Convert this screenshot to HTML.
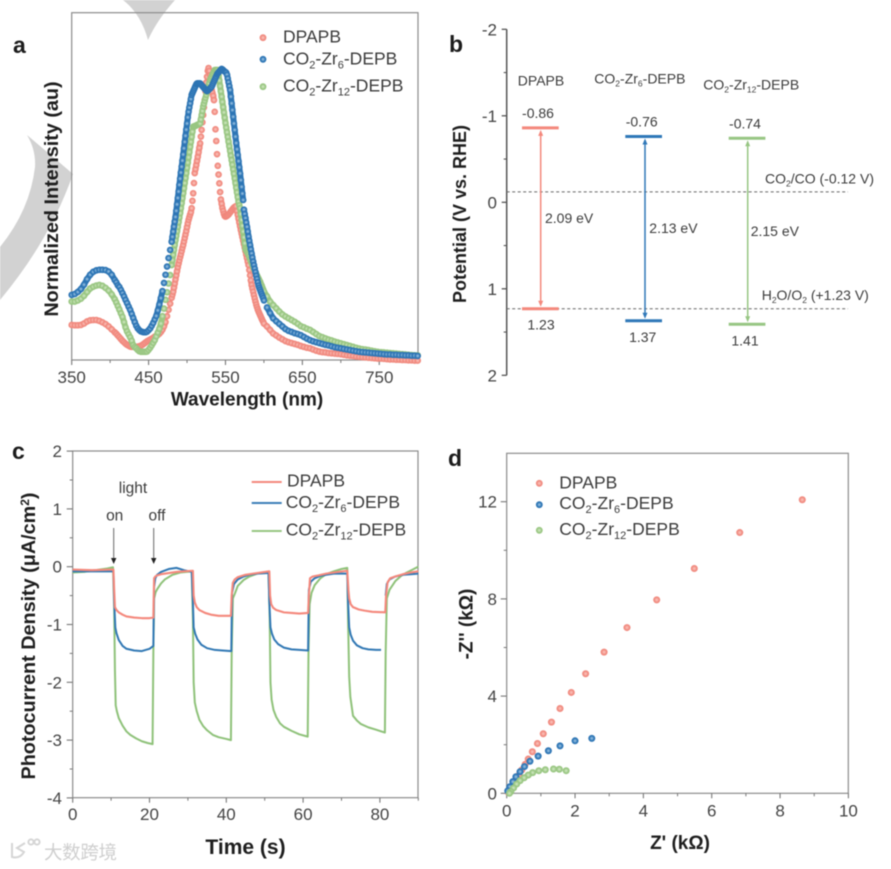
<!DOCTYPE html>
<html lang="en">
<head>
<meta charset="utf-8">
<title>Four-panel photocatalyst chart figure</title>
<style>
html,body{margin:0;padding:0;background:#fff;}
#figure{display:block;width:891px;height:869px;filter:blur(0.65px);font-family:"Liberation Sans","Noto Sans CJK SC",sans-serif;}
.tk{font-size:17px;fill:#444;}
.lg{font-size:17.5px;fill:#3c3c3c;}
.bl{font-size:14px;fill:#3c3c3c;}
.ttl{font-weight:bold;fill:#1e1e1e;}
.pl{font-size:23px;font-weight:bold;fill:#1c1c1c;}
</style>
</head>
<body>
<svg id="figure" xmlns="http://www.w3.org/2000/svg" width="891" height="869" viewBox="0 0 891 869">
<defs>
<radialGradient id="dot-red" cx="50%" cy="50%" r="55%"><stop offset="0" stop-color="#fbc9c2"/><stop offset="0.6" stop-color="#f28f84"/><stop offset="1" stop-color="#ee8075"/></radialGradient>
<radialGradient id="dot-blue" cx="50%" cy="50%" r="55%"><stop offset="0" stop-color="#a9cbe6"/><stop offset="0.6" stop-color="#2f78b8"/><stop offset="1" stop-color="#2a6fad"/></radialGradient>
<radialGradient id="dot-green" cx="50%" cy="50%" r="55%"><stop offset="0" stop-color="#d6ebc9"/><stop offset="0.6" stop-color="#9dc986"/><stop offset="1" stop-color="#93c27c"/></radialGradient>
</defs>
<rect width="891" height="869" fill="#fff"/>
<path d="M123,0 Q141,14 148,40 Q157,20 175,0 Z" fill="#d2d2d2"/>
<path d="M27,135 L73,174 Q50,240 0,300 L0,247 Q30,210 35,167 Q36,150 27,135 Z" fill="#d2d2d2"/>
<g fill="none" stroke="#d6d6d6" stroke-width="2">
<path d="M12,843 V857 Q20,859 24,852 L17,848 L25,843"/>
<circle cx="31" cy="842" r="2.6"/><circle cx="37" cy="842" r="2.6"/>
</g>
<text x="44" y="859" font-size="18.5" textLength="73" fill="#cfcfcf">大数跨境</text>

<g id="panel-a"></g>
<g id="panel-b"></g>
<g id="panel-c"></g>
<g id="panel-d"></g>

<text class="pl" x="13" y="53">a</text>
<text class="pl" x="449" y="52">b</text>
<text class="pl" x="12" y="459">c</text>
<text class="pl" x="448" y="466">d</text>

<text class="ttl" x="247" y="405.5" font-size="19" text-anchor="middle">Wavelength (nm)</text>
<text class="ttl" transform="translate(58,199) rotate(-90)" font-size="19.8" text-anchor="middle">Normalized Intensity (au)</text>
<text class="ttl" transform="translate(466,214) rotate(-90)" font-size="18" text-anchor="middle">Potential (V vs. RHE)</text>
<text class="ttl" x="245.5" y="854" font-size="21" text-anchor="middle">Time (s)</text>
<text class="ttl" transform="translate(35,636) rotate(-90)" font-size="19.8" text-anchor="middle">Photocurrent Density (μA/cm<tspan dy="-6" font-size="12">2</tspan><tspan dy="6">)</tspan></text>
<text class="ttl" x="680" y="849" font-size="19" text-anchor="middle">Z' (kΩ)</text>
<text class="ttl" transform="translate(472.5,624) rotate(-90)" font-size="19" text-anchor="middle">-Z'' (kΩ)</text>

<g>
<circle cx="263" cy="37.7" r="3.4" fill="url(#dot-red)"/>
<text class="lg" x="283" y="42.5">DPAPB</text>
<circle cx="263" cy="59.3" r="3.4" fill="url(#dot-blue)"/>
<text class="lg" x="283" y="64.3">CO<tspan dy="4" font-size="11">2</tspan><tspan dy="-4">-Zr</tspan><tspan dy="4" font-size="11">6</tspan><tspan dy="-4">-DEPB</tspan></text>
<circle cx="263" cy="86.7" r="3.4" fill="url(#dot-green)"/>
<text class="lg" x="283" y="91.7">CO<tspan dy="4" font-size="11">2</tspan><tspan dy="-4">-Zr</tspan><tspan dy="4" font-size="11">12</tspan><tspan dy="-4">-DEPB</tspan></text>
</g>

<g>
<text class="bl" x="541" y="85.7" text-anchor="middle">DPAPB</text>
<text class="bl" x="594.3" y="83.3">CO<tspan dy="3" font-size="8.5">2</tspan><tspan dy="-3">-Zr</tspan><tspan dy="3" font-size="8.5">6</tspan><tspan dy="-3">-DEPB</tspan></text>
<text class="bl" x="703.3" y="89.3">CO<tspan dy="3" font-size="8.5">2</tspan><tspan dy="-3">-Zr</tspan><tspan dy="3" font-size="8.5">12</tspan><tspan dy="-3">-DEPB</tspan></text>
<text class="bl" x="765" y="183.3">CO<tspan dy="3" font-size="8.5">2</tspan><tspan dy="-3">/CO (-0.12 V)</tspan></text>
<text class="bl" x="761.7" y="300">H<tspan dy="3" font-size="8.5">2</tspan><tspan dy="-3">O/O</tspan><tspan dy="3" font-size="8.5">2</tspan><tspan dy="-3"> (+1.23 V)</tspan></text>
</g>

<g>
<line x1="251.7" x2="281.7" y1="482" y2="482" stroke="#f4887c" stroke-width="2"/>
<text class="lg" x="287" y="486.7">DPAPB</text>
<line x1="251.7" x2="281.7" y1="503" y2="503" stroke="#3d80b8" stroke-width="2"/>
<text class="lg" x="285.7" y="508">CO<tspan dy="4" font-size="11">2</tspan><tspan dy="-4">-Zr</tspan><tspan dy="4" font-size="11">6</tspan><tspan dy="-4">-DEPB</tspan></text>
<line x1="251.7" x2="281.7" y1="531" y2="531" stroke="#97c683" stroke-width="2"/>
<text class="lg" x="285.7" y="535.7">CO<tspan dy="4" font-size="11">2</tspan><tspan dy="-4">-Zr</tspan><tspan dy="4" font-size="11">12</tspan><tspan dy="-4">-DEPB</tspan></text>
</g>

<g>
<text x="133" y="493" font-size="15.5" fill="#3c3c3c" text-anchor="middle">light</text>
<text x="114.7" y="520.7" font-size="15.5" fill="#3c3c3c" text-anchor="middle">on</text>
<text x="157" y="520.7" font-size="15.5" fill="#3c3c3c" text-anchor="middle">off</text>
<line x1="113.7" x2="113.7" y1="528" y2="559" stroke="#666" stroke-width="1"/>
<path d="M111,558 H116.4 L113.7,564 Z" fill="#222"/>
<line x1="153.7" x2="153.7" y1="528" y2="559" stroke="#666" stroke-width="1"/>
<path d="M151,558 H156.4 L153.7,564 Z" fill="#222"/>
</g>

<g>
<circle cx="539.3" cy="483.3" r="3.4" fill="url(#dot-red)"/>
<text class="lg" x="559.3" y="488.3">DPAPB</text>
<circle cx="539.3" cy="504.7" r="3.4" fill="url(#dot-blue)"/>
<text class="lg" x="559.3" y="509">CO<tspan dy="4" font-size="11">2</tspan><tspan dy="-4">-Zr</tspan><tspan dy="4" font-size="11">6</tspan><tspan dy="-4">-DEPB</tspan></text>
<circle cx="539.3" cy="530.3" r="3.4" fill="url(#dot-green)"/>
<text class="lg" x="559.3" y="535">CO<tspan dy="4" font-size="11">2</tspan><tspan dy="-4">-Zr</tspan><tspan dy="4" font-size="11">12</tspan><tspan dy="-4">-DEPB</tspan></text>
</g>
</svg>

<script>
/* ---------- Panel a data ---------- */
const wavelengths = [350,354,358,362,366,370,374,378,382,386,390,394,398,402,406,
408,410,412,414,416,418,420,422,424,426,428,430,432,434,436,438,440,442,444,446,448,450,452,454,456,458,460,462,464,466,468,470,472,474,476,478,
480,481,482,483,484,485,486,487,488,489,490,491,492,493,494,495,496,497,498,499,500,501,502,503,504,505,506,507,508,509,510,511,512,513,514,515,516,517,518,519,520,521,522,523,524,525,526,527,528,529,530,531,532,533,534,535,536,537,538,539,540,541,542,543,544,545,546,547,548,549,550,551,552,553,554,555,556,557,558,559,560,561,562,563,564,565,566,567,568,569,570,571,572,573,574,575,576,577,578,579,580,581,582,583,584,585,586,587,588,589,590,591,592,593,594,595,596,597,598,599,600,
604,608,612,616,620,624,628,632,636,640,644,648,652,656,660,664,668,672,676,680,684,688,692,696,700,704,708,712,716,720,724,728,732,736,740,744,748,752,756,760,764,768,772,776,780,784,788,792,796,800];
const intensityDpapb = [.12,.119,.119,.12,.125,.132,.136,.137,.137,.134,.129,.123,.115,.105,.095,
.09,.084,.078,.072,.066,.061,.056,.052,.049,.046,.045,.045,.045,.045,.046,.047,.049,.052,.056,.06,.064,.067,.07,.073,.076,.08,.083,.086,.09,.096,.104,.115,.13,.15,.172,.193,
.213,.224,.234,.248,.262,.276,.29,.304,.318,.33,
.341,.352,.362,.373,.384,.394,.406,.418,.43,.442,
.455,.468,.48,.489,.498,.506,.52,.545,.571,.606,
.64,.654,.668,.682,.696,.711,.727,.742,.765,.788,
.814,.839,.865,.89,.92,.95,.97,.99,1,.99,
.975,.95,.925,.915,.905,.89,.85,.79,.75,.705,
.665,.635,.605,.575,.55,.535,.52,.51,.5,.493,
.491,.492,.494,.496,.498,.502,.505,.509,.512,.516,
.519,.522,.524,.526,.527,.51,.497,.484,.471,.458,
.445,.433,.421,.409,.397,.385,.373,.361,.349,.337,
.325,.308,.29,.273,.257,.245,.234,.222,.211,.2,
.19,.181,.173,.166,.16,.154,.148,.142,.136,.131,.125,
.115,.103,.091,.084,.077,.071,.065,.061,.058,.055,.052,.048,.045,.042,.04,.036,.032,.029,.027,.026,.024,.023,.022,.021,.02,.018,.016,.015,.014,.012,.011,.01,.009,.008,.007,.006,.005,.005,.004,.003,.002,.002,.001,.001,0,0,-.001,-.001,-.002,-.002];
const intensityZr12 = [.2,.2,.204,.21,.22,.233,.245,.251,.255,.257,.254,.247,.238,.225,.208,
.197,.185,.173,.16,.148,.13,.112,.098,.088,.078,.066,.051,.044,.04,.034,.03,.028,.028,.028,.028,.029,.035,.042,.05,.059,.068,.081,.094,.107,.125,.15,.176,.206,.232,.262,.291,
.325,.342,.36,.377,.394,.41,.425,.441,.456,.472,
.488,.503,.52,.537,.554,.571,.588,.606,.623,.64,
.658,.676,.694,.712,.73,.747,.764,.782,.799,.8,
.801,.802,.803,.805,.806,.807,.808,.81,.824,.839,
.853,.868,.878,.888,.898,.908,.918,.928,.938,.948,
.959,.965,.971,.977,.982,.988,.993,.993,.993,.993,
.993,.975,.957,.938,.92,.902,.884,.866,.848,.83,
.812,.796,.78,.764,.748,.732,.716,.7,.685,.669,
.653,.638,.622,.606,.59,.574,.558,.542,.53,.52,
.5,.48,.46,.44,.42,.4,.38,.375,.37,.365,
.36,.353,.346,.339,.332,.325,.319,.313,.307,.301,
.295,.29,.284,.279,.273,.268,.261,.255,.248,.241,.235,
.218,.2,.188,.177,.166,.156,.149,.143,.137,.131,.124,.116,.112,.107,.103,.096,.089,.082,.078,.074,.07,.067,.063,.06,.057,.054,.051,.048,.045,.042,.039,.037,.036,.034,.032,.03,.028,.027,.026,.025,.024,.023,.022,.021,.02,.019,.018,.017,.016,.016];
const intensityZr6 = [.223,.226,.233,.243,.258,.277,.292,.302,.307,.309,.309,.308,.303,.292,.274,
.266,.256,.25,.24,.229,.218,.206,.195,.183,.172,.158,.144,.13,.117,.108,.102,.098,.096,.095,.095,.097,.102,.108,.117,.127,.139,.151,.17,.19,.212,.236,.264,.292,.32,.349,.377,
.405,.422,.44,.457,.474,.49,.511,.533,.555,.577,
.6,.621,.642,.662,.683,.704,.725,.747,.768,.789,
.81,.831,.85,.865,.879,.894,.908,.914,.92,.926,
.932,.938,.944,.947,.947,.947,.947,.947,.944,.941,
.938,.935,.932,.929,.926,.923,.921,.923,.925,.928,
.93,.933,.936,.942,.948,.954,.96,.966,.972,.978,
.982,.985,.988,.991,.994,.997,.995,.993,.99,.988,
.986,.984,.977,.964,.951,.938,.925,.902,.879,.856,
.833,.81,.788,.765,.743,.722,.702,.681,.66,.639,
.616,.593,.57,.548,.515,.5,.486,.471,.456,.44,
.423,.408,.394,.379,.365,.351,.337,.325,.313,.301,
.289,.278,.266,.255,.247,.24,.233,.226,.219,.212,.204,
.18,.161,.143,.133,.124,.115,.106,.1,.096,.092,.089,.085,.079,.073,.068,.064,.061,.058,.055,.052,.05,.047,.044,.042,.04,.038,.036,.034,.032,.03,.028,.027,.026,.025,.024,.023,.022,.021,.02,.019,.019,.018,.018,.017,.017,.016,.016,.015,.015,.014];
const aXTicks = [350,450,550,650,750];
const aXMinorTicks = [400,500,600,700,800];

/* ---------- Panel b data ---------- */
const bYTicks = [-2,-1,0,1,2];
const bYMinorTicks = [-1.5,-0.5,0.5,1.5];
const bandNames = ['dpapb','zr6','zr12'];
const conductionBand = [-0.86,-0.76,-0.74];
const valenceBand = [1.23,1.37,1.41];
const bandGap = [2.09,2.13,2.15];
const referencePotentials = [-0.12,1.23];

/* ---------- Panel c data ---------- */
const cXTicks = [0,20,40,60,80];
const cXMinorTicks = [10,30,50,70,90];
const cYTicks = [2,1,0,-1,-2,-3,-4];
const cYMinorTicks = [1.5,0.5,-0.5,-1.5,-2.5,-3.5];
const timeZr12 = [0,3,6,9,10.5,10.8,11,11.2,11.5,12,13,14,15,16.5,18,19.5,20.8,21,21.2,21.6,22,23,24,26,28,31,31.3,31.5,31.8,32.3,33,34,35,36.5,38,40,41.2,41.4,41.7,42.2,43,44.5,46,48,51,51.3,51.5,51.8,52.3,53,54,55,57,59,61.2,61.4,61.7,62.2,63,64.5,66,68,70,71.5,71.7,72,72.3,73,74,75,77,79,81.3,81.5,81.8,82.5,84,85.5,87,88.5,90];
const currentZr12 = [-.1,-.09,-.06,-.03,-.01,-.7,-1.8,-2.4,-2.5,-2.62,-2.75,-2.85,-2.91,-2.97,-3.02,-3.05,-3.07,-1.5,-.55,-.44,-.39,-.29,-.22,-.14,-.1,-.08,-.9,-2,-2.35,-2.5,-2.65,-2.76,-2.83,-2.91,-2.95,-2.98,-3,-1.5,-.55,-.47,-.33,-.23,-.17,-.12,-.1,-.9,-2,-2.3,-2.48,-2.6,-2.71,-2.77,-2.84,-2.9,-2.94,-1.5,-.65,-.45,-.32,-.2,-.13,-.08,-.04,-.02,-.9,-1.9,-2.25,-2.58,-2.66,-2.72,-2.78,-2.82,-2.87,-1.5,-.55,-.4,-.25,-.16,-.1,-.05,0];
const timeZr6 = [0,5,10.6,10.8,11.1,11.4,12,13,14,16,18,20,21,21.2,21.5,22,23,25,27,29,31,31.3,31.5,31.9,32.5,33.5,35,37,39,41.3,41.5,42,43,44.5,46,48,51,51.2,51.5,51.9,52.5,53.5,55,57,59,61.3,61.5,62,63,64.5,66,68,71.5,71.7,72,72.4,73,74,75.5,77,79,80.3,81,81.5,81.8,82.5,84,86,88,90];
const currentZr6 = [-.08,-.08,-.08,-.6,-1.05,-1.15,-1.27,-1.37,-1.42,-1.45,-1.46,-1.42,-1.37,-.35,-.2,-.14,-.09,-.04,-.02,-.06,-.09,-.6,-1.05,-1.16,-1.26,-1.35,-1.41,-1.44,-1.45,-1.46,-.45,-.3,-.22,-.17,-.14,-.12,-.11,-.6,-1.05,-1.16,-1.26,-1.34,-1.4,-1.43,-1.44,-1.45,-.4,-.26,-.2,-.16,-.14,-.12,-.12,-.6,-1.05,-1.18,-1.28,-1.36,-1.41,-1.43,-1.44,-1.44,null,-.5,-.3,-.22,-.17,-.14,-.13,-.12];
const timeDpapb = [0,5,10.6,10.8,11,11.4,12,13,14,16,18,20,21,21.2,21.5,22,23,25,27,29,31.3,31.5,31.8,32.3,33,34.5,36,38,41.2,41.4,41.7,42.2,43,45,47,51.2,51.4,51.7,52.2,53,55,57,59,61.3,61.5,61.8,62.5,64,66,68,71.5,71.8,72,72.4,73,74.5,76,78,81.4,81.6,82,82.7,84,86,88,90];
const currentDpapb = [-.05,-.06,-.05,-.4,-.7,-.75,-.79,-.83,-.86,-.88,-.89,-.89,-.88,-.2,-.17,-.15,-.13,-.11,-.09,-.08,-.07,-.5,-.62,-.7,-.75,-.8,-.83,-.85,-.85,-.5,-.28,-.22,-.18,-.14,-.12,-.08,-.5,-.65,-.71,-.75,-.79,-.8,-.81,-.8,-.5,-.2,-.17,-.15,-.12,-.1,-.07,-.4,-.55,-.65,-.7,-.74,-.76,-.78,-.79,-.5,-.27,-.2,-.17,-.13,-.1,-.08];

/* ---------- Panel d data ---------- */
const dXTicks = [0,2,4,6,8,10];
const dXMinorTicks = [1,3,5,7,9];
const dYTicks = [0,4,8,12];
const dYMinorTicks = [2,6,10];
const zRealDpapb = [8.65,6.82,5.49,4.39,3.52,2.85,2.31,1.89,1.56,1.31,1.07,.9,.75,.63,.54,.44,.36,.27,.2,.12,.05];
const zImagDpapb = [12.08,10.73,9.25,7.96,6.82,5.81,4.92,4.15,3.49,2.93,2.45,2.05,1.71,1.41,1.19,.96,.75,.55,.34,.16,.03];
const zRealZr6 = [2.49,2,1.56,1.22,.92,.68,.52,.39,.27,.18,.09,.03];
const zImagZr6 = [2.26,2.16,1.95,1.75,1.53,1.32,1.1,.89,.68,.48,.27,.1];
const zRealZr12 = [1.74,1.54,1.37,1.13,.94,.76,.63,.51,.39,.29,.2,.12,.08];
const zImagZr12 = [.93,.99,1,.97,.93,.85,.75,.64,.52,.38,.22,.07,0];

/* ---------- Helpers ---------- */
const NS = 'http://www.w3.org/2000/svg';
function mk(tag, attrs, parent){
  const el = document.createElementNS(NS, tag);
  for (const k in attrs) el.setAttribute(k, attrs[k]);
  parent.appendChild(el);
  return el;
}
function tickLine(parent, x1, y1, x2, y2, color, width, name){
  const el = mk('line', {x1:x1, y1:y1, x2:x2, y2:y2, stroke:color, 'stroke-width':width}, parent);
  
  
  return el;
}
function label(parent, x, y, str, anchor, cls, name){
  const el = mk('text', {x:x, y:y, 'text-anchor':anchor, class:cls}, parent);
  el.textContent = str;
  
  
  return el;
}
function frame(parent, x0, y0, x1, y1, name){
  const el = mk('rect', {x:x0, y:y0, width:x1-x0, height:y1-y0, fill:'none', stroke:'#8c8c8c', 'stroke-width':1.2}, parent);
  
  
}
function scatter(parent, xs, ys, sx, sy, r, grad, name){
  const g = mk('g', {fill:'url(#'+grad+')'}, parent);
  
  
  const n = Math.min(xs.length, ys.length);
  for (let i = 0; i < n; i++){
    const c = mk('circle', {cx:sx(xs[i]).toFixed(2), cy:sy(ys[i]).toFixed(2), r:r}, g);
    
    
  }
}
/* solid band under densely packed dots; widely spaced dots stay separate */
function denseBand(parent, xs, ys, sx, sy, color, width, maxGap, name){
  let d = '';
  const n = Math.min(xs.length, ys.length);
  for (let i = 0; i < n; i++){
    const px = sx(xs[i]), py = sy(ys[i]);
    const near = i > 0 && Math.hypot(px - sx(xs[i-1]), py - sy(ys[i-1])) < maxGap;
    d += (near ? 'L' : 'M') + px.toFixed(2) + ',' + py.toFixed(2);
  }
  const el = mk('path', {d:d, fill:'none', stroke:color, 'stroke-width':width, 'stroke-linejoin':'round', 'stroke-linecap':'round'}, parent);
  
  
}
function linePath(parent, xs, ys, sx, sy, color, width, name){
  let d = '', pen = false;
  const n = Math.min(xs.length, ys.length);
  for (let i = 0; i < n; i++){
    if (ys[i] === null){ pen = false; continue; }
    d += (pen ? 'L' : 'M') + sx(xs[i]).toFixed(2) + ',' + sy(ys[i]).toFixed(2);
    pen = true;
  }
  const el = mk('path', {d:d, fill:'none', stroke:color, 'stroke-width':width, 'stroke-linejoin':'round'}, parent);
  
  
}

/* ---------- Panel a ---------- */
(function(){
  const p = document.getElementById('panel-a');
  const sx = w => 71.7 + (w - 350) * 0.7689;
  const sy = v => 360 - 292 * v;
  frame(p, 71.7, 12.7, 418, 360, 'a-plot-frame');
  aXTicks.forEach(t => {
    tickLine(p, sx(t), 360, sx(t), 365, '#777', 1.1, 'a-x-major-tick');
    label(p, sx(t), 383, String(t), 'middle', 'tk', 'a-x-tick-label');
  });
  aXMinorTicks.forEach(t => {
    tickLine(p, sx(t), 360, sx(t), 363, '#777', 1, 'a-x-minor-tick');
  });
  denseBand(p, wavelengths, intensityDpapb, sx, sy, '#f28f84', 6, 5, 'a-band-dpapb');
  scatter(p, wavelengths, intensityDpapb, sx, sy, 3.3, 'dot-red', 'a-series-dpapb');
  denseBand(p, wavelengths, intensityZr12, sx, sy, '#9dc986', 6, 7.5, 'a-band-zr12');
  scatter(p, wavelengths, intensityZr12, sx, sy, 3.3, 'dot-green', 'a-series-zr12');
  denseBand(p, wavelengths, intensityZr6, sx, sy, '#2f78b8', 6, 7.5, 'a-band-zr6');
  scatter(p, wavelengths, intensityZr6, sx, sy, 3.3, 'dot-blue', 'a-series-zr6');
})();

/* ---------- Panel b ---------- */
(function(){
  const p = document.getElementById('panel-b');
  const sy = v => 202.3 + 86.5 * v;
  const axisX = 506.7;
  const colors = ['#f4887c', '#2f78b8', '#97c683'];
  const barLeft = [522, 625.3, 728.7];
  const barWidth = 36.7;
  const arrowX = [540.7, 645, 747.7];
  const topLabelX = [538, 641.7, 745];
  const bottomLabelX = [541, 642.7, 745];
  const gapLabelX = [545, 649.3, 750.7];
  tickLine(p, axisX, sy(-2), axisX, sy(2), '#555', 1.5, 'b-y-axis-line');
  bYTicks.forEach(t => {
    tickLine(p, axisX - 5, sy(t), axisX, sy(t), '#555', 1.3, 'b-y-major-tick');
    label(p, 497, sy(t) + 6, String(t), 'end', 'tk', 'b-y-tick-label');
  });
  bYMinorTicks.forEach(t => {
    tickLine(p, axisX - 3, sy(t), axisX, sy(t), '#555', 1.1, 'b-y-minor-tick');
  });
  referencePotentials.forEach(v => {
    const l = tickLine(p, axisX, sy(v), 848, sy(v), '#666', 1, 'b-reference-line');
    l.setAttribute('stroke-dasharray', '3 2.5');
  });
  bandNames.forEach((nm, i) => {
    const yT = sy(conductionBand[i]);
    const yB = sy(valenceBand[i]);
    const x = arrowX[i];
    tickLine(p, barLeft[i], yT, barLeft[i] + barWidth, yT, colors[i], 3, 'b-conduction-level-' + nm);
    tickLine(p, barLeft[i], yB, barLeft[i] + barWidth, yB, colors[i], 3, 'b-valence-level-' + nm);
    tickLine(p, x, yT + 4, x, yB - 4, colors[i], 1.5, 'b-gap-arrow-' + nm);
    const up = mk('path', {d:'M'+(x-2.5)+','+(yT+8)+' H'+(x+2.5)+' L'+x+','+(yT+2)+' Z', fill:colors[i]}, p);
    
    
    const dn = mk('path', {d:'M'+(x-2.5)+','+(yB-8)+' H'+(x+2.5)+' L'+x+','+(yB-2)+' Z', fill:colors[i]}, p);
    
    
    label(p, topLabelX[i], yT - 10, conductionBand[i].toFixed(2), 'middle', 'bl', 'b-conduction-value-' + nm);
    label(p, bottomLabelX[i], yB + 21, valenceBand[i].toFixed(2), 'middle', 'bl', 'b-valence-value-' + nm);
    label(p, gapLabelX[i], (yT + yB) / 2 + 4.5, bandGap[i].toFixed(2) + ' eV', 'start', 'bl', 'b-gap-value-' + nm);
  });
})();

/* ---------- Panel c ---------- */
(function(){
  const p = document.getElementById('panel-c');
  const sx = t => 72.7 + 3.84 * t;
  const sy = v => 566.7 - 57.8 * v;
  frame(p, 72.7, 451, 418, 797.7, 'c-plot-frame');
  cXTicks.forEach(t => {
    tickLine(p, sx(t), 797.7, sx(t), 802.7, '#777', 1.1, 'c-x-major-tick');
    label(p, sx(t), 820, String(t), 'middle', 'tk', 'c-x-tick-label');
  });
  cXMinorTicks.forEach(t => {
    tickLine(p, sx(t), 797.7, sx(t), 800.7, '#777', 1, 'c-x-minor-tick');
  });
  cYTicks.forEach(t => {
    tickLine(p, 66.7, sy(t), 72.7, sy(t), '#777', 1.1, 'c-y-major-tick');
    label(p, 62, sy(t) + 6, String(t), 'end', 'tk', 'c-y-tick-label');
  });
  cYMinorTicks.forEach(t => {
    tickLine(p, 69.7, sy(t), 72.7, sy(t), '#777', 1, 'c-y-minor-tick');
  });
  linePath(p, timeZr12, currentZr12, sx, sy, '#8fc27a', 2, 'c-series-zr12');
  linePath(p, timeZr6, currentZr6, sx, sy, '#3178b4', 2, 'c-series-zr6');
  linePath(p, timeDpapb, currentDpapb, sx, sy, '#f4887c', 2.1, 'c-series-dpapb');
})();

/* ---------- Panel d ---------- */
(function(){
  const p = document.getElementById('panel-d');
  const sx = v => 506.7 + 34.17 * v;
  const sy = v => 793.3 - 24.3 * v;
  frame(p, 506.7, 453.3, 848.3, 793.3, 'd-plot-frame');
  dXTicks.forEach(t => {
    tickLine(p, sx(t), 793.3, sx(t), 798.3, '#777', 1.1, 'd-x-major-tick');
    label(p, sx(t), 816.7, String(t), 'middle', 'tk', 'd-x-tick-label');
  });
  dXMinorTicks.forEach(t => {
    tickLine(p, sx(t), 793.3, sx(t), 796.3, '#777', 1, 'd-x-minor-tick');
  });
  dYTicks.forEach(t => {
    tickLine(p, 500.7, sy(t), 506.7, sy(t), '#777', 1.1, 'd-y-major-tick');
    label(p, 497, sy(t) + 6, String(t), 'end', 'tk', 'd-y-tick-label');
  });
  dYMinorTicks.forEach(t => {
    tickLine(p, 503.7, sy(t), 506.7, sy(t), '#777', 1, 'd-y-minor-tick');
  });
  scatter(p, zRealDpapb, zImagDpapb, sx, sy, 3.5, 'dot-red', 'd-series-dpapb');
  scatter(p, zRealZr6, zImagZr6, sx, sy, 3.5, 'dot-blue', 'd-series-zr6');
  scatter(p, zRealZr12, zImagZr12, sx, sy, 3.5, 'dot-green', 'd-series-zr12');
})();
</script>
</body>
</html>
